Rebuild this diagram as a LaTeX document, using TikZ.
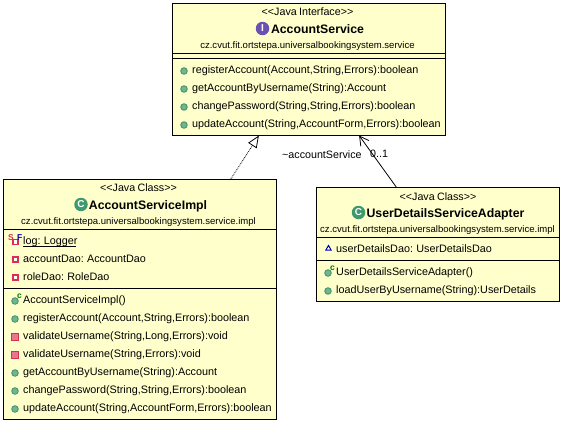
\documentclass[tikz,border=0pt]{standalone}
\usepackage{fontspec}
\setmainfont{Liberation Sans}
\usetikzlibrary{arrows.meta,shapes.geometric}
\definecolor{boxfill}{HTML}{FFFFCC}
\definecolor{pubgreen}{HTML}{6FB58F}
\definecolor{pubedge}{HTML}{3F8F68}
\definecolor{privred}{HTML}{D9304F}
\definecolor{classgreen}{HTML}{3E9A6C}
\definecolor{ifacepurple}{HTML}{6A52B0}
\tikzset{
	classbox/.style={draw=black,fill=boxfill,line width=1pt,rectangle,inner sep=0pt},
	member/.style={anchor=base west,inner sep=0pt,font={\fontsize{10.8}{12}\selectfont\spaceskip 2.3pt\relax}},
	stereo/.style={anchor=base,inner sep=0pt,font={\fontsize{10.7}{12}\selectfont\spaceskip 2.3pt\relax}},
	title/.style={anchor=base,inner sep=0pt,font=\fontsize{12.3}{14}\selectfont\bfseries},
	pkg/.style={anchor=base,inner sep=0pt,font=\fontsize{9.55}{11}\selectfont},
	pubicon/.style={circle,fill=pubgreen,draw=pubedge,line width=0.8pt,minimum size=6.6pt,inner sep=0pt},
	privfield/.style={rectangle,fill=white,draw=privred,line width=1.5pt,minimum size=5pt,inner sep=0pt},
	privmethod/.style={rectangle,fill=privred!65!white,draw=privred,line width=1pt,minimum size=6.6pt,inner sep=0pt},
	pkgfield/.style={regular polygon,regular polygon sides=3,fill=white,draw=blue!70!black,line width=1pt,minimum size=6pt,inner sep=0pt},
	bigicon/.style={circle,minimum size=13.5pt,inner sep=0pt,text=white,font=\fontsize{10}{10}\selectfont\bfseries},
	ctor/.style={anchor=base,inner sep=0pt,text=green!45!black,font=\fontsize{8.5}{9}\selectfont\bfseries},
	flagS/.style={anchor=base,inner sep=0pt,text=privred,font=\fontsize{8.5}{9}\selectfont\bfseries},
	flagF/.style={anchor=base,inner sep=0pt,text=blue!70!black,font=\fontsize{8.5}{9}\selectfont\bfseries},
}
\begin{document}
\begin{tikzpicture}[x=1pt,y=1pt]
	\useasboundingbox (0,0) rectangle (564,-423);
	\fill [white] (0,0) rectangle (564,-423);
	% service
	\node [classbox,minimum width=273pt,minimum height=132pt] (service) at (309,-69) {};
	\node [stereo] (serviceStereo) at (307.5,-16) {<{}<Java Interface>{}>};
	\node [bigicon,fill=ifacepurple] (serviceIcon) at (262.5,-28.5) {I};
	\node [title] (serviceTitle) at (317.5,-33.5) {AccountService};
	\node [pkg] (servicePkg) at (307.5,-48) {cz.cvut.fit.ortstepa.universalbookingsystem.service};
	\draw [line width=1pt] (service.west |- 0,-53.5) -- (service.east |- 0,-53.5);
	\draw [line width=1pt] (service.west |- 0,-58.5) -- (service.east |- 0,-58.5);
	\node [pubicon] (serviceIconA) at (184,-71) {};
	\node [member] (serviceA) at (192,-73) {registerAccount(Account,String,Errors):boolean};
	\node [pubicon] (serviceIconB) at (184,-89) {};
	\node [member] (serviceB) at (192,-91) {getAccountByUsername(String):Account};
	\node [pubicon] (serviceIconC) at (184,-107) {};
	\node [member] (serviceC) at (192,-109) {changePassword(String,String,Errors):boolean};
	\node [pubicon] (serviceIconD) at (184,-125) {};
	\node [member] (serviceD) at (192,-127) {updateAccount(String,AccountForm,Errors):boolean};
	% impl
	\node [classbox,minimum width=273pt,minimum height=240pt] (impl) at (140,-299.5) {};
	\node [stereo] (implStereo) at (138.5,-191.5) {<{}<Java Class>{}>};
	\node [bigicon,fill=classgreen] (implIcon) at (81,-204.5) {C};
	\node [title] (implTitle) at (148,-209) {AccountServiceImpl};
	\node [pkg] (implPkg) at (138.5,-224) {cz.cvut.fit.ortstepa.universalbookingsystem.service.impl};
	\draw [line width=1pt] (impl.west |- 0,-229.5) -- (impl.east |- 0,-229.5);
	\draw [line width=1pt] (impl.west |- 0,-288.5) -- (impl.east |- 0,-288.5);
	\node [privfield] (implIconA) at (15.5,-242) {};
	\node [flagS] (implStatic) at (11,-240) {S};
	\node [flagF] (implFinal) at (19.7,-240) {F};
	\node [member] (implA) at (23,-244) {log: Logger};
	\draw [line width=0.9pt] (implA.base west) ++(0,-2) -- ++(53,0);
	\node [privfield] (implIconB) at (15.5,-259.5) {};
	\node [member] (implB) at (23,-262) {accountDao: AccountDao};
	\node [privfield] (implIconC) at (15.5,-277.5) {};
	\node [member] (implC) at (23,-280) {roleDao: RoleDao};
	\node [pubicon] (implIconD) at (15,-301) {};
	\node [ctor] (implCtor) at (19.5,-298) {c};
	\node [member] (implD) at (23,-303) {AccountServiceImpl()};
	\node [pubicon] (implIconE) at (15,-319) {};
	\node [member] (implE) at (23,-321) {registerAccount(Account,String,Errors):boolean};
	\node [privmethod] (implIconF) at (15,-337) {};
	\node [member] (implF) at (23,-339) {validateUsername(String,Long,Errors):void};
	\node [privmethod] (implIconG) at (15,-355) {};
	\node [member] (implG) at (23,-357) {validateUsername(String,Errors):void};
	\node [pubicon] (implIconH) at (15,-373) {};
	\node [member] (implH) at (23,-375) {getAccountByUsername(String):Account};
	\node [pubicon] (implIconI) at (15,-391) {};
	\node [member] (implI) at (23,-393) {changePassword(String,String,Errors):boolean};
	\node [pubicon] (implIconJ) at (15,-409) {};
	\node [member] (implJ) at (23,-411) {updateAccount(String,AccountForm,Errors):boolean};
	% adapter
	\node [classbox,minimum width=243pt,minimum height=114pt] (adapter) at (438,-244.5) {};
	\node [stereo] (adapterStereo) at (438,-200) {<{}<Java Class>{}>};
	\node [bigicon,fill=classgreen] (adapterIcon) at (358.5,-212.5) {C};
	\node [title] (adapterTitle) at (445.5,-217) {UserDetailsServiceAdapter};
	\node [pkg] (adapterPkg) at (437.5,-232) {cz.cvut.fit.ortstepa.universalbookingsystem.service.impl};
	\draw [line width=1pt] (adapter.west |- 0,-237.5) -- (adapter.east |- 0,-237.5);
	\draw [line width=1pt] (adapter.west |- 0,-260) -- (adapter.east |- 0,-260);
	\node [pkgfield] (adapterIconA) at (328.5,-248.5) {};
	\node [member] (adapterA) at (336,-252) {userDetailsDao: UserDetailsDao};
	\node [pubicon] (adapterIconB) at (328,-273) {};
	\node [ctor] (adapterCtor) at (332.5,-270) {c};
	\node [member] (adapterB) at (336,-275) {UserDetailsServiceAdapter()};
	\node [pubicon] (adapterIconC) at (328,-291) {};
	\node [member] (adapterC) at (336,-293) {loadUserByUsername(String):UserDetails};
	% connectors
	\draw [line width=0.8pt,densely dotted,-{Triangle[open,length=12pt,width=10pt]}] (impl.53.4) -- (service.233.8);
	\draw [line width=0.8pt,-{Straight Barb[length=9pt,width=10pt]}] (adapter.126) -- (service.-53.8);
	\node [stereo,anchor=base west] (assocRole) at (282,-158) {\char"7E accountService};
	\node [stereo,anchor=base west] (assocMult) at (370,-157) {0..1};
\end{tikzpicture}
\end{document}
